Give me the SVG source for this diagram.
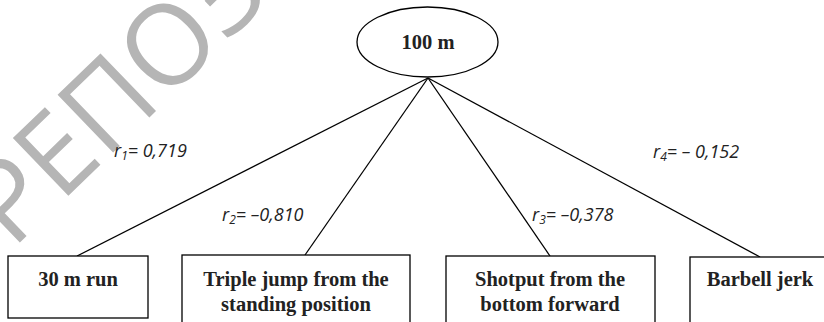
<svg xmlns="http://www.w3.org/2000/svg" width="824" height="322" viewBox="0 0 824 322">
<style>
.wm{font-family:"Open Sans","Noto Sans",sans-serif;font-weight:400;font-size:112px;fill:#b5b5b5}
.box{fill:#ffffff;stroke:#000;stroke-width:1.3}
.lbl{font-family:"Liberation Serif","Times New Roman",serif;font-weight:bold;font-size:20.5px;fill:#222;text-anchor:middle}
.r{font-family:"Open Sans","Noto Sans",sans-serif;font-style:italic;font-size:18px;fill:#222}
.sub{font-size:12px}
.edge{stroke:#000;stroke-width:1.3;fill:none}
</style>
<rect width="824" height="322" fill="#fff"/>
<text class="wm" transform="translate(12,250) rotate(-44)">РЕПОЗИТОРИЙ</text>
<g id="connectors">
<line class="edge" x1="428" y1="78" x2="77" y2="256"/>
<line class="edge" x1="428" y1="78" x2="305" y2="255"/>
<line class="edge" x1="428" y1="78" x2="550" y2="256"/>
<line class="edge" x1="428" y1="78" x2="760" y2="257"/>
</g>
<g id="n100m">
<ellipse class="box" cx="427.5" cy="42" rx="70.5" ry="35"/>
<text class="lbl" x="428" y="49">100 m</text>
</g>
<g id="n30m">
<rect class="box" x="8" y="256" width="140" height="62"/>
<text class="lbl" x="78" y="286">30 m run</text>
</g>
<g id="ntriple">
<rect class="box" x="182" y="255" width="228" height="80"/>
<text class="lbl" x="296" y="286">Triple jump from the</text>
<text class="lbl" x="296" y="311">standing position</text>
</g>
<g id="nshot">
<rect class="box" x="446" y="256" width="209" height="80"/>
<text class="lbl" x="550" y="286">Shotput from the</text>
<text class="lbl" x="550" y="311">bottom forward</text>
</g>
<g id="nbarbell">
<rect class="box" x="690" y="257" width="150" height="80"/>
<text class="lbl" x="760" y="286">Barbell jerk</text>
</g>
<g id="labels">
<text class="r" x="114" y="157">r<tspan class="sub" dy="3">1</tspan><tspan dy="-3">= 0,719</tspan></text>
<text class="r" x="222" y="221">r<tspan class="sub" dy="3">2</tspan><tspan dy="-3">= –0,810</tspan></text>
<text class="r" x="532" y="221">r<tspan class="sub" dy="3">3</tspan><tspan dy="-3">= –0,378</tspan></text>
<text class="r" x="653" y="158">r<tspan class="sub" dy="3">4</tspan><tspan dy="-3">= – 0,152</tspan></text>
</g>
</svg>
